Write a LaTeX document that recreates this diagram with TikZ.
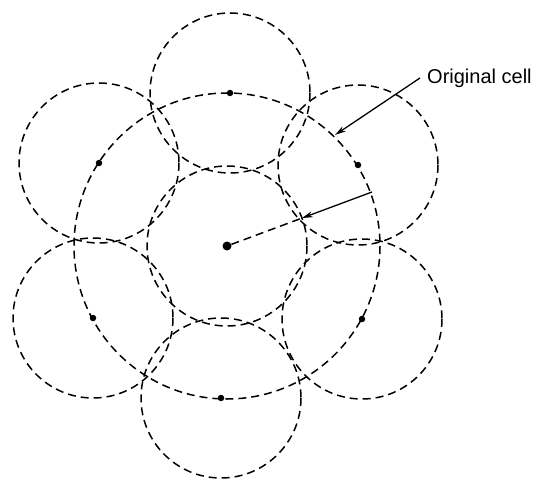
\documentclass[tikz,border=0pt]{standalone}
\usepackage{fontspec}
\setmainfont{Liberation Sans}
\usetikzlibrary{arrows.meta,calc}
\begin{document}
\begin{tikzpicture}[x=1pt,y=-1pt,
  cellline/.style={line width=1.5pt,dash pattern=on 8pt off 5pt},
  centredot/.style={circle,fill=black,inner sep=0pt,minimum size=#1},
  pointer/.style={line width=1.3pt,-{Stealth[length=11pt,width=6pt]}}]
\useasboundingbox (0,0) rectangle (537,481);
% centres
\node[centredot=9pt] (c0) at (227,246) {};
\node[centredot=6.5pt] (c1) at (230,93) {};
\node[centredot=6.5pt] (c2) at (99,163) {};
\node[centredot=6.5pt] (c3) at (358,165) {};
\node[centredot=6.5pt] (c4) at (93,318) {};
\node[centredot=6.5pt] (c5) at (362,319) {};
\node[centredot=6.5pt] (c6) at (221,398) {};
% big (original) cell
\draw[cellline] (c0.center) circle[radius=153];
% small cells
\foreach \n in {c0,c1,c2,c3,c4,c5,c6}
  \draw[cellline] (\n.center) circle[radius=80];
% radius indicator
\coordinate (rout) at (372,192);
\coordinate (rin) at ($(c0.center)!80pt!(rout)$);
\draw[cellline] (c0) -- (rin);
\draw[pointer] (rout) -- (rin);
% label
\node[anchor=base west,inner sep=0pt,font=\fontsize{20}{24}\selectfont] (lab) at (427,84) {Original cell};
\coordinate (tail) at (420,78);
\coordinate (tip) at (335,135);
\draw[pointer] (tail) -- (tip);
\end{tikzpicture}
\end{document}
